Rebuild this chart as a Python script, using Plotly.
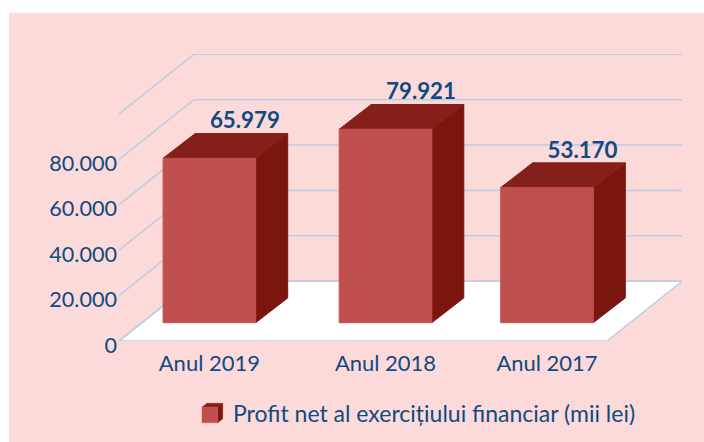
import plotly.graph_objects as go

# --- data ---
categories = ["Anul 2019", "Anul 2018", "Anul 2017"]
value_labels = ["65.979", "79.921", "53.170"]          # labels printed above the bars
bar_heights = [72400, 85200, 59500]                    # drawn heights on the value axis
y_grid_values = [0, 20000, 40000, 60000, 80000, 100000]
y_tick_values = [0, 20000, 40000, 60000, 80000]
y_tick_labels = ["0", "20.000", "40.000", "60.000", "80.000"]
legend_name = "Profit net al exercițiului financiar (mii lei)"

# --- layout / projection constants ---
W, H = 704, 442
ML, MR, MT, MB = 119, 22, 54, 101
X_MIN, X_MAX = 119, 682
Y_MAX = 126400
bar_centers = [209.4, 385.5, 547.0]
BAR_W = 92.6
BAR_BASE = 8060
BAR_DX, BAR_DY = 32, 10900      # bar depth
WALL_DX, WALL_DY = 75, 26300    # floor depth
FRONT_RIGHT = 607
BG = "#FCDADA"
GRID = "#BCCCE2"
TEXT = "#0F4A80"
FRONT, TOP, SIDE = "#C0504D", "#851F1A", "#7B160F"
FONT = "Lato"


def px(x, y):
    """Pixel position to paper coordinates."""
    pw = W - ML - MR
    ph = H - MT - MB
    return (x - ML) / pw, (H - MB - y) / ph


def poly(xs, ys, color, line=None, name=None):
    return go.Scatter(x=xs + xs[:1], y=ys + ys[:1], mode="lines", fill="toself",
                      fillcolor=color, line=dict(color=line or color, width=1),
                      hoverinfo="skip", showlegend=False, cliponaxis=False, name=name)


def seg(xs, ys):
    return go.Scatter(x=xs, y=ys, mode="lines", line=dict(color=GRID, width=1.5),
                      hoverinfo="skip", showlegend=False, cliponaxis=False)


fig = go.Figure()

# floor
fig.add_trace(poly([X_MIN, FRONT_RIGHT, FRONT_RIGHT + WALL_DX, X_MIN + WALL_DX],
                   [0, 0, WALL_DY, WALL_DY], "#FFFFFF", GRID))
fig.data[-1].line.width = 1.5

# grid lines on side and back walls
for v in y_grid_values:
    fig.add_trace(seg([X_MIN, X_MIN + WALL_DX, X_MAX], [v, v + WALL_DY, v + WALL_DY]))

# bars: front, top and side faces
for c, h in zip(bar_centers, bar_heights):
    x0, x1 = c - BAR_W / 2, c + BAR_W / 2
    y0, y1 = BAR_BASE, BAR_BASE + h
    fig.add_trace(poly([x1, x1 + BAR_DX, x1 + BAR_DX, x1],
                       [y0, y0 + BAR_DY, y1 + BAR_DY, y1], SIDE))
    fig.add_trace(poly([x0, x1, x1 + BAR_DX, x0 + BAR_DX],
                       [y1, y1, y1 + BAR_DY, y1 + BAR_DY], TOP))
    fig.add_trace(poly([x0, x1, x1, x0], [y0, y0, y1, y1], FRONT))

# value labels
fig.add_trace(go.Scatter(
    x=[c + 35.5 for c in bar_centers],
    y=[BAR_BASE + h + 15600 for h in bar_heights],
    mode="text", text=value_labels, textposition="middle center",
    textfont=dict(family=FONT, size=22.3, color=TEXT, weight="bold"),
    hoverinfo="skip", showlegend=False, cliponaxis=False))

# background panel and legend swatch
bx0, by0 = px(9, H)
bx1, by1 = px(W, 13)
shapes = [dict(type="rect", xref="paper", yref="paper", x0=bx0, y0=by0, x1=bx1, y1=by1,
               fillcolor=BG, line_width=0, layer="below")]


def swatch(points, color):
    pts = [px(*p) for p in points]
    path = "M" + " L".join(f"{a:.5f},{b:.5f}" for a, b in pts) + " Z"
    return dict(type="path", xref="paper", yref="paper", path=path,
                fillcolor=color, line=dict(color=color, width=0.5), layer="above")


shapes += [
    swatch([(217.7, 407.3), (222.7, 403.3), (222.7, 418.7), (217.7, 422.7)], SIDE),
    swatch([(202, 407.3), (217.7, 407.3), (222.7, 403.3), (207, 403.3)], TOP),
    swatch([(202, 407.3), (217.7, 407.3), (217.7, 422.7), (202, 422.7)], FRONT),
]

lx, ly = px(231, 412.5)
fig.update_layout(
    width=W, height=H,
    margin=dict(l=ML, r=MR, t=MT, b=MB, pad=0),
    paper_bgcolor="#FFFFFF", plot_bgcolor="rgba(0,0,0,0)",
    showlegend=False,
    font=dict(family=FONT, color=TEXT, size=21),
    shapes=shapes,
    annotations=[dict(xref="paper", yref="paper", x=lx, y=ly, xanchor="left", yanchor="middle",
                      text=legend_name, showarrow=False,
                      font=dict(family=FONT, size=23, color=TEXT))],
    xaxis=dict(range=[X_MIN, X_MAX], tickmode="array", tickvals=bar_centers, ticktext=categories,
               showgrid=False, zeroline=False, showline=False, ticks="",
               ticklabelstandoff=7,
               tickfont=dict(family=FONT, size=22, color=TEXT), fixedrange=True),
    yaxis=dict(range=[0, Y_MAX], tickmode="array", tickvals=y_tick_values, ticktext=y_tick_labels,
               showgrid=False, zeroline=False, showline=False, ticks="",
               ticklabelstandoff=1, ticklabelshift=4,
               tickfont=dict(family=FONT, size=21.6, color=TEXT), fixedrange=True),
)

fig.write_html("out.html", config=dict(displayModeBar=False),
               post_script="document.body.style.margin='0';")
